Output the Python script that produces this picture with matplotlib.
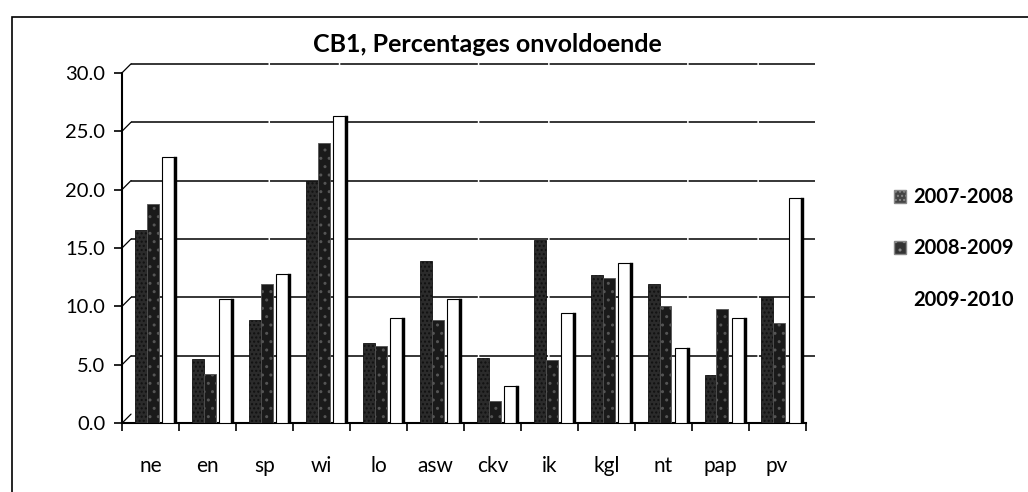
import numpy as np
import matplotlib
matplotlib.use("Agg")
import matplotlib.pyplot as plt
from matplotlib.patches import Patch, Rectangle
from matplotlib.transforms import offset_copy

categories = ["ne", "en", "sp", "wi", "lo", "asw", "ckv", "ik", "kgl", "nt", "pap", "pv"]
series_names = ["2007-2008", "2008-2009", "2009-2010"]
v_0708 = [16.5, 5.5, 8.8, 20.7, 6.9, 13.9, 5.6, 15.7, 12.7, 11.9, 4.1, 10.8]
v_0809 = [18.8, 4.2, 11.9, 24.0, 6.6, 8.8, 1.9, 5.4, 12.4, 10.0, 9.8, 8.6]
v_0910 = [22.8, 10.6, 12.8, 26.3, 9.0, 10.6, 3.2, 9.4, 13.7, 6.4, 9.0, 19.3]
yticks = [0, 5, 10, 15, 20, 25, 30]
title = "CB1, Percentages onvoldoende"

plt.rcParams['font.family'] = ['Lato', 'DejaVu Sans']

fig = plt.figure(figsize=(10.28, 4.92), dpi=100)
ax = fig.add_axes([0.1187, 0.140, 0.665, 0.712])

# outer border box
fig.add_artist(Rectangle((12/1028, -0.01), 1.02, 1 - 17/492 + 0.01, transform=fig.transFigure,
                         fill=False, edgecolor='black', linewidth=1.2))

# back-wall gridlines (shifted up/right for the 3D look)
back = offset_copy(ax.get_yaxis_transform(), fig=fig, x=9, y=9, units='dots')
for ycur in yticks[1:]:
    ax.plot([0.0, 1.0], [ycur, ycur], transform=back, color='black', linewidth=1.1,
            linestyle=(0, (90, 1, 45, 1)), zorder=1, clip_on=False)
# diagonal connectors from axis to back wall
for ycur in yticks:
    ax.annotate("", xy=(0, ycur), xycoords=back, xytext=(0, ycur),
                textcoords=ax.get_yaxis_transform(),
                arrowprops=dict(arrowstyle='-', color='black', lw=0.9, shrinkA=0, shrinkB=0))

x = np.arange(len(categories))
w = 0.21
ax.bar(x - 0.17, v_0708, width=w, color='#2b2b2b', edgecolor='#111111', linewidth=0.6,
       hatch='....', zorder=3)
ax.bar(x + 0.04, v_0809, width=w, color='#1a1a1a', edgecolor='#555555', linewidth=0.6,
       hatch='..', zorder=3)
ax.bar(x + 0.31, v_0910, width=0.22, color='white', edgecolor='black', linewidth=0.8, zorder=3)
ax.bar(x + 0.44, v_0910, width=0.05, color='black', edgecolor='black', linewidth=0.3, zorder=3)

ax.set_xlim(-0.5, len(categories) - 0.5)
ax.set_ylim(0, 30)
ax.set_yticks(yticks)
ax.set_yticklabels([f"{v:.1f}" for v in yticks], fontsize=14.5)
ax.set_xticks(x)
ax.set_xticklabels(categories, fontsize=15)
ax.set_xticks(np.arange(len(categories) + 1) - 0.5, minor=True)
ax.tick_params(axis='x', which='major', length=0, pad=24)
ax.tick_params(axis='x', which='minor', length=6, direction='out', width=1.2)
ax.tick_params(axis='y', length=6, width=1.2, pad=6)
for s in ['top', 'right']:
    ax.spines[s].set_visible(False)
ax.spines['left'].set_linewidth(1.5)
ax.spines['bottom'].set_linewidth(1.5)

fig.text(487/1028, 1 - 45/492, title, fontsize=18, fontweight='bold', ha='center', va='center')

handles = [Patch(facecolor='#444444', hatch='....', edgecolor='#888888'),
           Patch(facecolor='#333333', hatch='..', edgecolor='#888888'),
           Patch(facecolor='white', edgecolor='white')]
fig.legend(handles, series_names, loc='center left', bbox_to_anchor=(0.852, 0.495),
           frameon=False, prop={'size': 14.5, 'weight': 'bold'}, handlelength=0.6,
           handleheight=0.6, handletextpad=0.35, labelspacing=1.55)

fig.savefig("out.png", dpi=100, facecolor='white')
